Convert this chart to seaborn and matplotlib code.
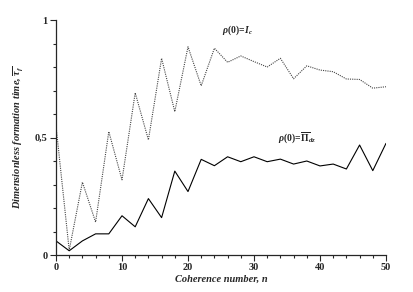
import numpy as np
import pandas as pd
import matplotlib
matplotlib.use("Agg")
import matplotlib.pyplot as plt
import seaborn as sns

# coherence number n
n_vals = list(range(0, 52, 2))

# rho(0)=I_c  (dotted)
tau_ic = [0.55, 0.02, 0.31, 0.14, 0.525, 0.32, 0.69, 0.49, 0.837, 0.61,
          0.886, 0.72, 0.88, 0.82, 0.847, 0.823, 0.80, 0.837, 0.75, 0.805,
          0.787, 0.78, 0.749, 0.747, 0.71, 0.716]

# rho(0)=Pi_dz  (solid)
tau_pi = [0.06, 0.018, 0.06, 0.09, 0.09, 0.167, 0.12, 0.24, 0.159, 0.357,
          0.27, 0.407, 0.38, 0.418, 0.397, 0.418, 0.397, 0.408, 0.387, 0.40,
          0.379, 0.387, 0.366, 0.468, 0.359, 0.475]

df = pd.DataFrame({"n": n_vals, "ic": tau_ic, "pi": tau_pi})

sns.set_style("ticks")
plt.rcParams["font.family"] = ["Liberation Serif", "DejaVu Serif"]
plt.rcParams["mathtext.fontset"] = "custom"
plt.rcParams["mathtext.it"] = "Liberation Serif:italic:bold"
plt.rcParams["mathtext.rm"] = "Liberation Serif:bold"
plt.rcParams["mathtext.bf"] = "Liberation Serif:bold"
plt.rcParams["mathtext.fallback"] = "stix"

fig = plt.figure(figsize=(4.13, 2.92), dpi=100)
ax = fig.add_axes([0.1356, 0.1267, 0.799, 0.8048])

sns.lineplot(data=df, x="n", y="ic", ax=ax, color="#444444",
             linestyle=(0, (1, 1)), linewidth=0.8)
sns.lineplot(data=df, x="n", y="pi", ax=ax, color="black", linewidth=0.8)

ax.set_xlim(0, 50)
ax.set_ylim(0, 1)
ax.set_xticks([0, 10, 20, 30, 40, 50])
ax.set_xticks(np.arange(0, 51, 2), minor=True)
ax.set_yticks([0, 0.5, 1])
ax.set_yticklabels(["0", "0,5", "1"])
ax.set_yticks(np.arange(0, 1.01, 0.1), minor=True)
ax.tick_params(axis="both", which="major", length=4, width=0.8,
               labelsize=7.5, direction="out", pad=2)
ax.tick_params(axis="both", which="minor", length=2.5, width=0.8, direction="out")
for lab in ax.get_xticklabels() + ax.get_yticklabels():
    lab.set_fontweight("bold")

for s in ["top", "right"]:
    ax.spines[s].set_visible(False)
for s in ["left", "bottom"]:
    ax.spines[s].set_linewidth(0.9)

ax.set_xlabel("Coherence number, n", fontsize=7.5, fontstyle="italic",
              fontweight="bold", labelpad=2)
ax.set_ylabel(r"Dimensionless formation time, $\overline{\tau_f}$", fontsize=7.5,
              fontstyle="italic", fontweight="bold", labelpad=7)

ax.text(27.5, 0.955, r"$\rho(0)\!=\!I_c$", fontsize=7, ha="center", va="center")
ax.text(36.5, 0.50, r"$\rho(0)\!=\!\overline{\Pi}_{dz}$", fontsize=7,
        ha="center", va="center")

fig.savefig("out.png", dpi=100)
